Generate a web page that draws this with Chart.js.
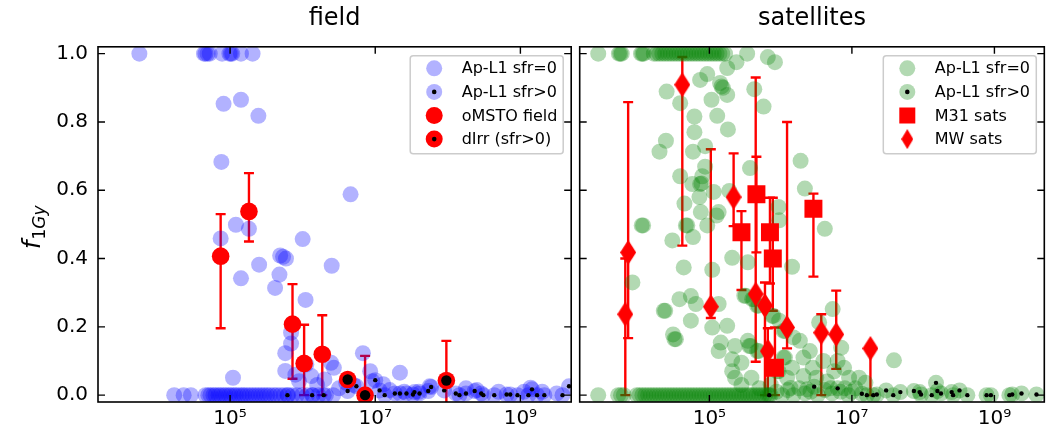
<!DOCTYPE html>
<html>
<head>
<meta charset="utf-8">
<script src="https://cdn.jsdelivr.net/npm/chart.js@4.4.1/dist/chart.umd.min.js"></script>
<style>
  html, body { margin: 0; padding: 0; background: #fff; overflow: hidden; }
  #wrap { position: relative; width: 1047px; height: 433px; overflow: hidden; }
  #left  { position: absolute; left: 0; top: 0; }
  #right { position: absolute; left: 567px; top: 0; }
</style>
</head>
<body>
<div id="wrap">
  <canvas id="left" width="580" height="433"></canvas>
  <canvas id="right" width="490" height="433"></canvas>
</div>
<script>
// ── Data (x = log10 stellar mass, y = f_1Gy) ──────────────────────────────────

const xTicks = [5, 7, 9];
const yTicks = [0, 0.2, 0.4, 0.6, 0.8, 1.0];

// field: Ap-L1 sfr=0
const fieldSfr0 = [
  [3.75,1.0],[4.64,1.0],[4.66,1.0],[4.69,1.0],[4.72,1.0],[4.89,1.0],[4.99,1.0],[5.01,1.0],[5.03,1.0],[5.15,1.0],[5.31,1.0],
  [4.91,0.853],[5.15,0.865],[5.39,0.818],[4.88,0.683],[6.66,0.588],
  [5.08,0.499],[5.26,0.487],[4.87,0.459],[6.00,0.457],
  [5.40,0.382],[5.15,0.342],[5.69,0.409],[5.73,0.405],[5.77,0.40],[5.68,0.353],[5.62,0.314],[6.04,0.279],[6.40,0.379],
  [5.84,0.183],[5.84,0.151],[5.76,0.123],[5.76,0.071],[5.04,0.051],[6.83,0.123],[7.34,0.066],
  [6.39,0.095],[6.43,0.08],[6.30,0.046],[6.12,0.056],[5.95,0.041],[6.93,0.07],[6.96,0.041],[7.11,0.032],[6.60,0.036],
  [7.75,0.026],[9.14,0.022],[5.90,0.06],[6.05,0.09],[6.20,0.03],[6.50,0.02],[6.70,0.03],[7.20,0.015],[7.40,0.01],
  [7.60,0.01],[8.25,0.02],[8.40,0.015],[8.70,0.01],[9.05,0.01],[9.30,0.01],[9.50,0.005],
  [4.23,0],[4.36,0],[4.46,0],[4.66,0],[4.70,0],[4.73,0],[4.77,0],[4.80,0],[4.84,0],[4.87,0],[4.91,0],[4.94,0],
  [4.98,0],[5.01,0],[5.05,0],[5.08,0],[5.12,0],[5.16,0],[5.19,0],[5.23,0],[5.27,0],[5.31,0],[5.35,0],[5.39,0],
  [5.43,0],[5.47,0],[5.51,0],[5.55,0],[5.60,0],[5.64,0],[5.69,0],[5.74,0],[5.80,0],[5.86,0],[5.92,0],[5.99,0],
  [6.06,0],[6.14,0],[6.22,0],[6.32,0],[6.42,0]
];

// field: Ap-L1 sfr>0
const fieldSfrPos = [
  [5.79,0],[6.13,0],[6.29,0],[6.62,0.012],[6.74,0.026],[7.00,0.044],[7.06,0.014],[7.13,0],[7.27,0.005],[7.34,0.005],
  [7.43,0.005],[7.52,0.002],[7.54,0.009],[7.61,0.005],[7.73,0.012],[7.77,0.024],[7.95,0.014],[8.11,0.005],[8.16,0],
  [8.25,0.005],[8.37,0.012],[8.46,0.005],[8.49,0],[8.64,0],[8.81,0.002],[8.86,0.002],[8.96,0],[9.11,0],[9.16,0.017],
  [9.23,0],[9.33,0],[9.58,0],[9.67,0.026]
];

// field: oMSTO field
const omstoX  = [4.87, 5.26, 5.86, 6.02, 6.27];
const omstoY  = [0.407, 0.538, 0.208, 0.093, 0.12];
const omstoLo = [0.196, 0.45, 0.048, 0.0, 0.0];
const omstoHi = [0.53, 0.65, 0.325, 0.206, 0.234];

// field: dIrr (sfr>0)
const dirrX  = [6.62, 6.86, 7.98];
const dirrY  = [0.046, 0.0, 0.043];
const dirrLo = [null, -0.05, -0.05];
const dirrHi = [null, 0.115, 0.159];

// satellites: Ap-L1 sfr=0
const satSfr0 = [
  [3.44,1],[3.73,1],[3.75,1],[3.77,1],[4.04,1],[4.06,1],[4.08,1],[4.22,1],[4.26,1],[4.30,1],[4.34,1],[4.38,1],
  [4.42,1],[4.46,1],[4.50,1],[4.54,1],[4.58,1],[4.62,1],[4.66,1],[4.70,1],[4.74,1],[4.78,1],[4.82,1],[4.86,1],
  [4.90,1],[4.94,1],[4.98,1],[5.02,1],[5.06,1],[5.10,1],[5.14,1],[5.18,1],[5.22,1],[5.53,1],[5.82,0.99],[5.92,0.975],
  [5.38,0.975],[5.25,0.958],[4.97,0.94],[4.87,0.923],[5.15,0.914],[5.17,0.904],[5.19,0.90],[5.25,0.879],[4.40,0.889],
  [4.59,0.855],[5.03,0.865],[5.63,0.896],[5.76,0.845],[4.79,0.816],[5.11,0.818],[4.79,0.77],[5.26,0.778],[4.39,0.745],
  [4.30,0.713],[4.77,0.713],[4.94,0.729],[4.94,0.669],[4.90,0.641],[4.59,0.641],[4.76,0.618],[4.87,0.618],[4.89,0.62],
  [5.57,0.665],[6.28,0.686],[6.34,0.605],[5.28,0.598],[4.65,0.561],[4.86,0.58],[4.88,0.536],[5.06,0.595],[5.13,0.536],
  [5.97,0.551],[5.98,0.512],[4.67,0.497],[4.69,0.497],[4.97,0.497],[5.10,0.526],[4.05,0.497],[4.07,0.497],[4.48,0.453],
  [4.77,0.463],[6.62,0.487],
  [3.92,0.33],[4.64,0.374],[5.04,0.367],[5.32,0.402],[5.54,0.389],[6.16,0.376],[4.58,0.281],[4.74,0.29],[4.81,0.267],
  [4.36,0.247],[4.38,0.247],[5.13,0.267],[4.74,0.218],[5.04,0.198],[5.25,0.203],[4.49,0.178],[4.51,0.164],[4.53,0.164],
  [5.16,0.154],[5.13,0.129],[5.36,0.144],[5.32,0.105],[5.45,0.095],[5.56,0.144],[5.58,0.144],[5.59,0.051],[5.36,0.051],
  [5.32,0.07],[5.49,0.291],[5.51,0.291],[5.60,0.281],[5.62,0.281],[5.67,0.262],[5.69,0.262],[5.88,0.232],[5.90,0.232],
  [5.98,0.218],[6.04,0.188],[6.06,0.188],[6.18,0.169],[6.27,0.159],[6.41,0.129],[6.32,0.11],[6.16,0.08],[6.32,0.056],
  [6.50,0.051],[5.67,0.129],[5.69,0.129],[6.04,0.11],[6.06,0.11],[5.95,0.07],[5.97,0.07],[6.09,0.051],[5.86,0.031],
  [6.14,0.021],[6.37,0.017],[5.54,0.159],[5.45,0.03],[5.70,0.02],
  [6.73,0.252],[6.54,0.213],[6.85,0.139],[7.59,0.102],[6.75,0.07],[6.89,0.08],[6.96,0.051],[7.10,0.051],[7.19,0.036],
  [6.60,0.10],[6.65,0.04],[6.70,0.02],[6.90,0.02],[7.00,0.01],[6.45,0.08],[6.80,0.10],
  [3.44,0],[3.72,0],[3.76,0],[3.80,0],[3.98,0],[4.02,0],[4.06,0],[4.10,0],[4.14,0],[4.18,0],[4.22,0],[4.26,0],
  [4.30,0],[4.34,0],[4.38,0],[4.42,0],[4.46,0],[4.50,0],[4.54,0],[4.58,0],[4.62,0],[4.66,0],[4.70,0],[4.74,0],
  [4.78,0],[4.82,0],[4.86,0],[4.90,0],[4.94,0],[4.98,0],[5.02,0],[5.06,0],[5.10,0],[5.14,0],[5.18,0],[5.22,0],
  [5.26,0],[5.30,0],[5.34,0],[5.38,0],[5.42,0],[5.46,0],[5.50,0],[5.54,0],[5.58,0],[5.62,0],[5.66,0],[5.70,0],
  [5.74,0],[5.78,0],[5.82,0],[5.86,0],[5.94,0.01],[6.02,0],[6.10,0.015],[6.18,0],[6.26,0.02],[6.34,0.005],
  [6.42,0.01],[6.52,0.0],[6.62,0.015],[6.72,0.005],[6.84,0.01],[6.95,0.0],[7.05,0.02]
];

// satellites: Ap-L1 sfr>0
const satSfrPos = [
  [5.84,0],[6.47,0.025],[6.80,0.02],[7.14,0.004],[7.21,0],[7.30,0],[7.35,0.002],[7.48,0.014],[7.58,0],[7.68,0.009],
  [7.87,0.012],[7.95,0.009],[7.97,0.002],[8.12,0],[8.18,0.036],[8.20,0.012],[8.25,0.005],[8.40,0.009],[8.42,0],
  [8.51,0.014],[8.62,0],[8.89,0],[8.95,0],[9.21,0],[9.25,0.002],[9.38,0.005],[9.59,0.002]
];

// satellites: M31 sats
const m31X  = [5.45, 5.66, 5.85, 5.89, 6.46, 5.92];
const m31Y  = [0.477, 0.588, 0.477, 0.40, 0.546, 0.08];
const m31Lo = [0.308, 0.418, 0.327, 0.247, 0.347, 0.0];
const m31Hi = [0.539, 0.698, 0.578, 0.578, 0.59, 0.198];

// satellites: MW sats
const mwX  = [3.82, 3.86, 4.62, 5.02, 5.34, 5.65, 5.78, 5.82, 6.09, 6.57, 6.78, 7.26];
const mwY  = [0.237, 0.418, 0.909, 0.259, 0.58, 0.296, 0.262, 0.129, 0.198, 0.183, 0.178, 0.137];
const mwLo = [0.0, 0.167, 0.438, 0.226, 0.495, 0.098, 0.0, 0.0, 0.137, 0.0, 0.077, 0.0];
const mwHi = [0.40, 0.858, 0.99, 0.72, 0.708, 0.93, 0.33, 0.196, 0.80, 0.237, 0.306, 0.137];

// ── Styling ───────────────────────────────────────────────────────────────────

const FONT   = "'DejaVu Sans', sans-serif";
const BLUE_A = 'rgba(0,0,255,0.3)';
const GREEN_A = 'rgba(0,128,0,0.3)';
const RED    = '#ff0000';
const SUP    = { 5: '\u2075', 7: '\u2077', 9: '\u2079' };

const pairs = list => list.map(p => ({ x: p[0], y: p[1] }));
const zipXY = (xs, ys) => xs.map((x, i) => ({ x, y: ys[i] }));

function makeDiamond(w, h) {
  const c = document.createElement('canvas');
  c.width = w; c.height = h;
  const g = c.getContext('2d');
  g.fillStyle = RED;
  g.beginPath();
  g.moveTo(w / 2, 0); g.lineTo(w, h / 2); g.lineTo(w / 2, h); g.lineTo(0, h / 2);
  g.closePath(); g.fill();
  return c;
}
const DIAMOND = makeDiamond(16, 25);

// ── Plugins ───────────────────────────────────────────────────────────────────

function errorBarPlugin(sets) {
  return {
    id: 'errbars',
    beforeDatasetsDraw(chart) {
      const { ctx, chartArea: a, scales: { x, y } } = chart;
      ctx.save();
      ctx.beginPath();
      ctx.rect(a.left, a.top, a.right - a.left, a.bottom - a.top);
      ctx.clip();
      ctx.strokeStyle = RED;
      ctx.lineWidth = 2.4;
      sets.forEach(s => s.xs.forEach((xv, i) => {
        if (s.lo[i] == null) return;
        const px = x.getPixelForValue(xv);
        const p1 = y.getPixelForValue(s.lo[i]);
        const p2 = y.getPixelForValue(s.hi[i]);
        ctx.beginPath();
        ctx.moveTo(px, p1); ctx.lineTo(px, p2);
        ctx.moveTo(px - 5, p1); ctx.lineTo(px + 5, p1);
        ctx.moveTo(px - 5, p2); ctx.lineTo(px + 5, p2);
        ctx.stroke();
      }));
      ctx.restore();
    }
  };
}

// box frame + inward ticks on all four sides
const framePlugin = {
  id: 'frame',
  afterDatasetsDraw(chart) {
    const { ctx, chartArea: a, scales: { x, y } } = chart;
    ctx.save();
    ctx.strokeStyle = '#000';
    ctx.lineWidth = 1.6;
    ctx.strokeRect(a.left, a.top, a.right - a.left, a.bottom - a.top);
    ctx.lineWidth = 1.4;
    ctx.beginPath();
    xTicks.forEach(v => {
      const p = x.getPixelForValue(v);
      ctx.moveTo(p, a.bottom); ctx.lineTo(p, a.bottom - 7);
      ctx.moveTo(p, a.top);    ctx.lineTo(p, a.top + 7);
    });
    yTicks.forEach(v => {
      const p = y.getPixelForValue(v);
      ctx.moveTo(a.left, p);  ctx.lineTo(a.left + 7, p);
      ctx.moveTo(a.right, p); ctx.lineTo(a.right - 7, p);
    });
    ctx.stroke();
    ctx.restore();
  }
};

function legendPlugin(items) {
  return {
    id: 'boxLegend',
    afterDraw(chart) {
      const { ctx, chartArea: a } = chart;
      const w = 153, h = 98;
      const bx = a.right - 8 - w, by = a.top + 9;
      ctx.save();
      ctx.beginPath();
      ctx.roundRect(bx, by, w, h, 3);
      ctx.fillStyle = 'rgba(255,255,255,0.8)';
      ctx.fill();
      ctx.strokeStyle = '#cccccc';
      ctx.lineWidth = 1.5;
      ctx.stroke();
      ctx.font = `16px ${FONT}`;
      ctx.textBaseline = 'middle';
      items.forEach((it, i) => {
        const cy = by + 12.5 + i * 23.6;
        const cx = bx + 24;
        it.draw(ctx, cx, cy);
        ctx.fillStyle = '#000';
        ctx.fillText(it.label, bx + 51.5, cy + 1);
      });
      ctx.restore();
    }
  };
}

function disc(ctx, x, y, r, color) {
  ctx.beginPath(); ctx.arc(x, y, r, 0, Math.PI * 2); ctx.fillStyle = color; ctx.fill();
}

const yLabelPlugin = {
  id: 'ylabel',
  afterDraw(chart) {
    const { ctx } = chart;
    ctx.save();
    ctx.translate(40, 249);
    ctx.rotate(-Math.PI / 2);
    ctx.fillStyle = '#000';
    ctx.textBaseline = 'alphabetic';
    ctx.font = `italic 24px ${FONT}`;
    ctx.fillText('f', 0, 0);
    const wf = ctx.measureText('f').width;
    ctx.font = `17px ${FONT}`;
    ctx.fillText('1', wf + 1, 5);
    const w1 = ctx.measureText('1').width;
    ctx.font = `italic 17px ${FONT}`;
    ctx.fillText('Gy', wf + 1 + w1, 5);
    ctx.restore();
  }
};

// ── Chart factory ────────────────────────────────────────────────────────────

function makePanel(canvasId, title, datasets, plugins, showY) {
  const el = document.getElementById(canvasId);
  return new Chart(el, {
    type: 'scatter',
    data: { datasets },
    options: {
      responsive: false,
      animation: false,
      events: [],
      devicePixelRatio: 1,
      layout: { padding: { left: 0, right: showY ? 6 : 8, top: 0, bottom: 0 } },
      plugins: {
        legend: { display: false },
        tooltip: { enabled: false },
        title: {
          display: true,
          text: title,
          fullSize: false,
          color: '#000',
          font: { family: FONT, size: 24, weight: 'normal' },
          padding: { top: 4, bottom: 14 },
        },
      },
      scales: {
        x: {
          type: 'linear',
          min: 3.18,
          max: 9.70,
          afterBuildTicks: s => { s.ticks = xTicks.map(v => ({ value: v })); },
          afterFit: s => { s.height = 31; },
          grid: { display: false, drawTicks: false },
          border: { display: false },
          ticks: {
            color: '#000',
            font: { family: FONT, size: 20 },
            padding: 5,
            maxRotation: 0,
            autoSkip: false,
            callback: v => '10' + (SUP[v] || ''),
          },
        },
        y: {
          min: -0.02,
          max: 1.02,
          afterBuildTicks: s => { s.ticks = yTicks.map(v => ({ value: v })); },
          afterFit: s => { s.width = showY ? 98 : 6; },
          grid: { display: false, drawTicks: false },
          border: { display: false },
          ticks: {
            display: showY,
            color: '#000',
            font: { family: FONT, size: 20 },
            padding: 10,
            callback: v => v.toFixed(1),
          },
        },
      },
    },
    plugins,
  });
}

// ── Left panel: field ────────────────────────────────────────────────────────

makePanel('left', 'field', [
  { label: 'dIrr dot', data: zipXY(dirrX, dirrY), pointRadius: 5.2, backgroundColor: '#000', borderWidth: 0, order: 0 },
  { label: 'dIrr (sfr>0)', data: zipXY(dirrX, dirrY), pointRadius: 8.8, backgroundColor: RED, borderWidth: 0, order: 1 },
  { label: 'oMSTO field', data: zipXY(omstoX, omstoY), pointRadius: 8.8, backgroundColor: RED, borderWidth: 0, order: 2 },
  { label: 'sfr>0 dot', data: pairs(fieldSfrPos), pointRadius: 2.2, backgroundColor: '#000', borderWidth: 0, order: 3 },
  { label: 'Ap-L1 sfr>0', data: pairs(fieldSfrPos), pointRadius: 8, backgroundColor: BLUE_A, borderWidth: 0, order: 4 },
  { label: 'Ap-L1 sfr=0', data: pairs(fieldSfr0), pointRadius: 8, backgroundColor: BLUE_A, borderWidth: 0, order: 5 },
], [
  errorBarPlugin([
    { xs: omstoX, lo: omstoLo, hi: omstoHi },
    { xs: dirrX, lo: dirrLo, hi: dirrHi },
  ]),
  framePlugin,
  legendPlugin([
    { label: 'Ap-L1 sfr=0', draw: (c, x, y) => disc(c, x, y, 8, BLUE_A) },
    { label: 'Ap-L1 sfr>0', draw: (c, x, y) => { disc(c, x, y, 8, BLUE_A); disc(c, x, y, 2.3, '#000'); } },
    { label: 'oMSTO field', draw: (c, x, y) => disc(c, x, y, 8.5, RED) },
    { label: 'dIrr (sfr>0)', draw: (c, x, y) => { disc(c, x, y, 8.5, RED); disc(c, x, y, 2.3, '#000'); } },
  ]),
  yLabelPlugin,
], true);

// ── Right panel: satellites ──────────────────────────────────────────────────

makePanel('right', 'satellites', [
  { label: 'MW sats', data: zipXY(mwX, mwY), pointStyle: DIAMOND, pointRadius: 8, backgroundColor: RED, order: 0 },
  { label: 'M31 sats', data: zipXY(m31X, m31Y), pointStyle: 'rect', pointRadius: 12.7, backgroundColor: RED, borderWidth: 0, order: 1 },
  { label: 'sfr>0 dot', data: pairs(satSfrPos), pointRadius: 2.2, backgroundColor: '#000', borderWidth: 0, order: 2 },
  { label: 'Ap-L1 sfr>0', data: pairs(satSfrPos), pointRadius: 8, backgroundColor: GREEN_A, borderWidth: 0, order: 3 },
  { label: 'Ap-L1 sfr=0', data: pairs(satSfr0), pointRadius: 8, backgroundColor: GREEN_A, borderWidth: 0, order: 4 },
], [
  errorBarPlugin([
    { xs: m31X, lo: m31Lo, hi: m31Hi },
    { xs: mwX, lo: mwLo, hi: mwHi },
  ]),
  framePlugin,
  legendPlugin([
    { label: 'Ap-L1 sfr=0', draw: (c, x, y) => disc(c, x, y, 8, GREEN_A) },
    { label: 'Ap-L1 sfr>0', draw: (c, x, y) => { disc(c, x, y, 8, GREEN_A); disc(c, x, y, 2.3, '#000'); } },
    { label: 'M31 sats', draw: (c, x, y) => { c.fillStyle = RED; c.fillRect(x - 8, y - 8, 16, 16); } },
    { label: 'MW sats', draw: (c, x, y) => c.drawImage(makeDiamond(12, 20), x - 6, y - 10) },
  ]),
], false);
</script>
</body>
</html>
